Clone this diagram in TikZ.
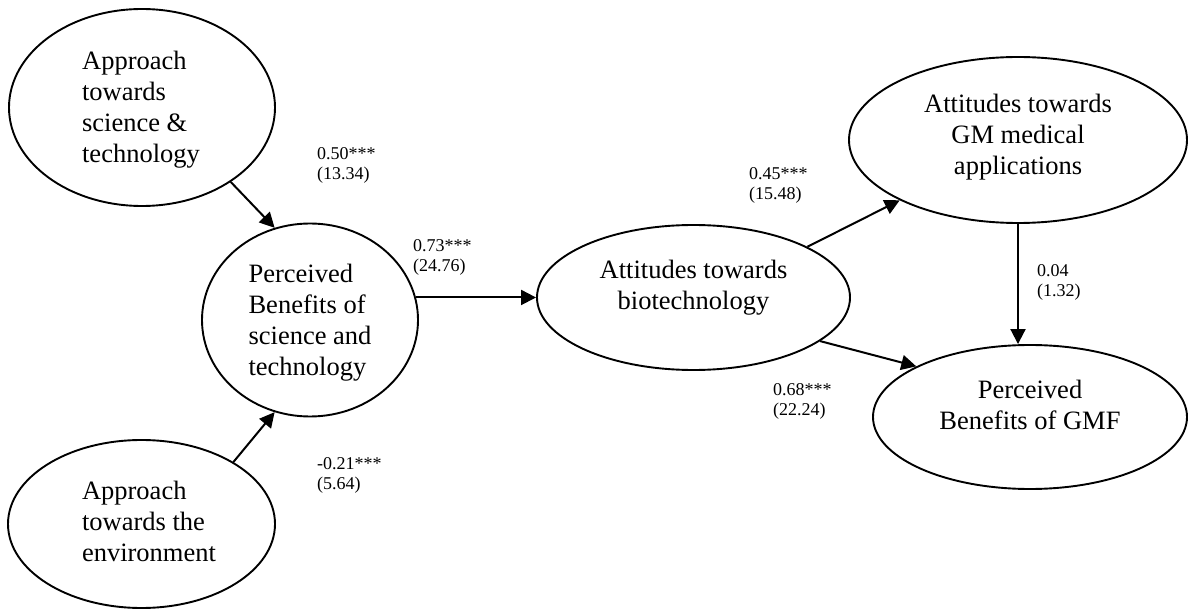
\documentclass[tikz,border=0pt]{standalone}
\usepackage{fontspec}
\setmainfont{Liberation Serif}
\usetikzlibrary{shapes.geometric,arrows.meta}
\begin{document}
\begin{tikzpicture}[x=1pt,y=-1pt,
  construct/.style={draw, ellipse, line width=1.9pt, inner sep=0pt},
  ctext/.style={font=\fontsize{26.5}{31}\selectfont, inner sep=0pt},
  link/.style={line width=2pt, -{Triangle[length=15pt,width=15pt]}},
  coef/.style={anchor=west, align=left, inner sep=0pt, font=\fontsize{18}{20}\selectfont}
]
\useasboundingbox (0,0) rectangle (1197,612);

% latent constructs
\node[construct, minimum width=266pt, minimum height=197pt,
  label={[ctext, align=left, xshift=-1pt, yshift=-2.5pt]center:{Approach\\towards\\science \&\\technology}}]
  (A) at (142,107.5) {};
\node[construct, minimum width=216pt, minimum height=193pt,
  label={[ctext, align=left, xshift=0pt, yshift=-3pt]center:{Perceived\\Benefits of\\science and\\technology}}]
  (B) at (310,320) {};
\node[construct, minimum width=267pt, minimum height=168pt,
  label={[ctext, align=left, xshift=7.5pt, yshift=3pt]center:{Approach\\towards the\\environment}}]
  (C) at (141.5,524) {};
\node[construct, minimum width=313pt, minimum height=145pt,
  label={[ctext, align=center, yshift=9.5pt]center:{Attitudes towards\\biotechnology}}]
  (D) at (693.5,297.5) {};
\node[construct, minimum width=338pt, minimum height=166pt,
  label={[ctext, align=center, yshift=2.5pt]center:{Attitudes towards\\GM medical\\applications}}]
  (E) at (1018,140) {};
\node[construct, minimum width=314pt, minimum height=144pt,
  label={[ctext, align=center, yshift=12pt]center:{Perceived\\Benefits of GMF}}]
  (F) at (1030,417) {};

% structural paths
\draw[link] (A.-40) -- (B.111);
\draw[link] (C.34.6) -- (B.-111);
\draw[link] (B.12) -- (B.12 -| D.west);
\draw[link] (D.24.5) -- (E.207);
\draw[link] (D.-19.9) -- (F.156);
\draw[link] (E.south) -- (E.south |- F.north);

% path coefficients (t-values)
\node[coef] (cAB) at (317,165) {0.50***\\(13.34)};
\node[coef] (cBD) at (413,257) {0.73***\\(24.76)};
\node[coef] (cDE) at (749,185) {0.45***\\(15.48)};
\node[coef] (cDF) at (773,401) {0.68***\\(22.24)};
\node[coef] (cEF) at (1037,282) {0.04\\(1.32)};
\node[coef] (cCB) at (317,475) {-0.21***\\(5.64)};
\end{tikzpicture}
\end{document}
